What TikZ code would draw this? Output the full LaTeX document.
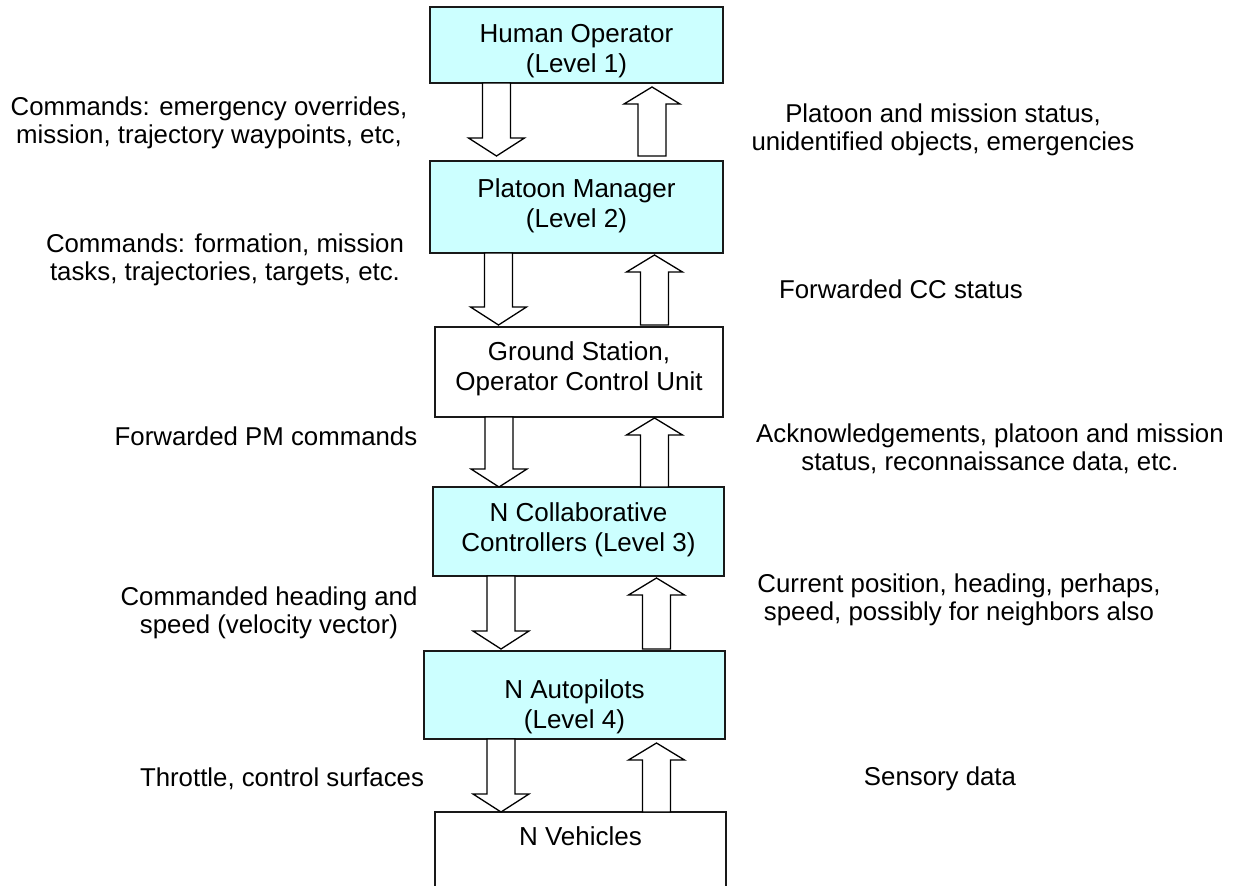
\documentclass[tikz,border=0pt]{standalone}
\usepackage{fontspec}
\setmainfont{Liberation Sans}
\usetikzlibrary{calc}
\definecolor{boxcyan}{HTML}{CCFFFF}
\newcommand\blockdown[4]{%
 \draw[blockarrow] let \p1=(#1.south), \p2=(#2.north) in
  (#3pt-14pt,\y1) -- (#3pt-14pt,\y2+#4pt+18pt) -- (#3pt-28pt,\y2+#4pt+18pt) -- (#3pt,\y2+#4pt)
  -- (#3pt+28pt,\y2+#4pt+18pt) -- (#3pt+14pt,\y2+#4pt+18pt) -- (#3pt+14pt,\y1) -- cycle;}
\newcommand\blockup[5]{%
 \draw[blockarrow] let \p1=(#1.south), \p2=(#2.north) in
  (#3pt-14pt,\y2+#4pt) -- (#3pt-14pt,\y1-#5pt-17pt) -- (#3pt-28pt,\y1-#5pt-17pt) -- (#3pt,\y1-#5pt)
  -- (#3pt+28pt,\y1-#5pt-17pt) -- (#3pt+14pt,\y1-#5pt-17pt) -- (#3pt+14pt,\y2+#4pt) -- cycle;}
\begin{document}
\begin{tikzpicture}[x=1pt,y=-1pt,
  box/.style={draw=black!90, line width=1.5pt, outer sep=0pt, inner sep=0pt, anchor=north west},
  blockarrow/.style={draw=black, line width=1.3pt, fill=white, line join=miter},
  boxtext/.style={align=center, anchor=base, inner sep=0pt, font=\fontsize{26}{30}\selectfont},
  lbl/.style={align=center, anchor=base, inner sep=0pt, font=\fontsize{25.8}{28}\selectfont}]
\clip (0,0) rectangle (1243,886);
\fill[white] (0,0) rectangle (1243,886);
% boxes
\node[box, fill=boxcyan, minimum width=293pt, minimum height=76pt] (ho) at (430,7) {};
\node[box, fill=boxcyan, minimum width=293pt, minimum height=92pt] (pm) at (430,161) {};
\node[box, fill=white, minimum width=288pt, minimum height=90pt] (gs) at (435,327) {};
\node[box, fill=boxcyan, minimum width=291pt, minimum height=89pt] (cc) at (433,487) {};
\node[box, fill=boxcyan, minimum width=301pt, minimum height=88pt] (ap) at (424,651) {};
\node[box, fill=white, minimum width=291pt, minimum height=100pt] (nv) at (435,812) {};
% box texts (anchor = baseline of last line)
\node[boxtext] (hoT) at (ho.center |- 0,72) {Human Operator\\(Level 1)};
\node[boxtext] (pmT) at (pm.center |- 0,227) {Platoon Manager\\(Level 2)};
\node[boxtext] (gsT) at (gs.center |- 0,390) {Ground Station,\\Operator Control Unit};
\node[boxtext] (ccT) at (cc.center |- 0,551) {N Collaborative\\Controllers (Level 3)};
\node[boxtext] (apT) at (ap.center |- 0,728) {N Autopilots\\(Level 4)};
\node[boxtext] (nvT) at (nv.center |- 0,845) {N Vehicles};
% block arrows
\blockdown{ho}{pm}{496.5}{5}
\blockup{ho}{pm}{652}{5}{4}
\blockdown{pm}{gs}{498.5}{2}
\blockup{pm}{gs}{654.5}{2}{2}
\blockdown{gs}{cc}{499}{0}
\blockup{gs}{cc}{654.5}{0}{1}
\blockdown{cc}{ap}{501}{2}
\blockup{cc}{ap}{656.5}{2}{2}
\blockdown{ap}{nv}{501}{0}
\blockup{ap}{nv}{656.5}{0}{4}
% labels (anchor = baseline of last line)
\node[lbl] (l1) at (209,143) {Commands: emergency overrides,\\mission, trajectory waypoints, etc,};
\node[lbl] (l2) at (225,280) {Commands: formation, mission\\tasks, trajectories, targets, etc.};
\node[lbl] (l3) at (266,445) {Forwarded PM commands};
\node[lbl] (l4) at (269,633) {Commanded heading and\\speed (velocity vector)};
\node[lbl] (l5) at (282,786) {Throttle, control surfaces};
\node[lbl] (r1) at (943,150) {Platoon and mission status,\\unidentified objects, emergencies};
\node[lbl] (r2) at (901,298) {Forwarded CC status};
\node[lbl] (r3) at (990,470) {Acknowledgements, platoon and mission\\status, reconnaissance data, etc.};
\node[lbl] (r4) at (959,620) {Current position, heading, perhaps,\\speed, possibly for neighbors also};
\node[lbl] (r5) at (940,785) {Sensory data};
\end{tikzpicture}
\end{document}
